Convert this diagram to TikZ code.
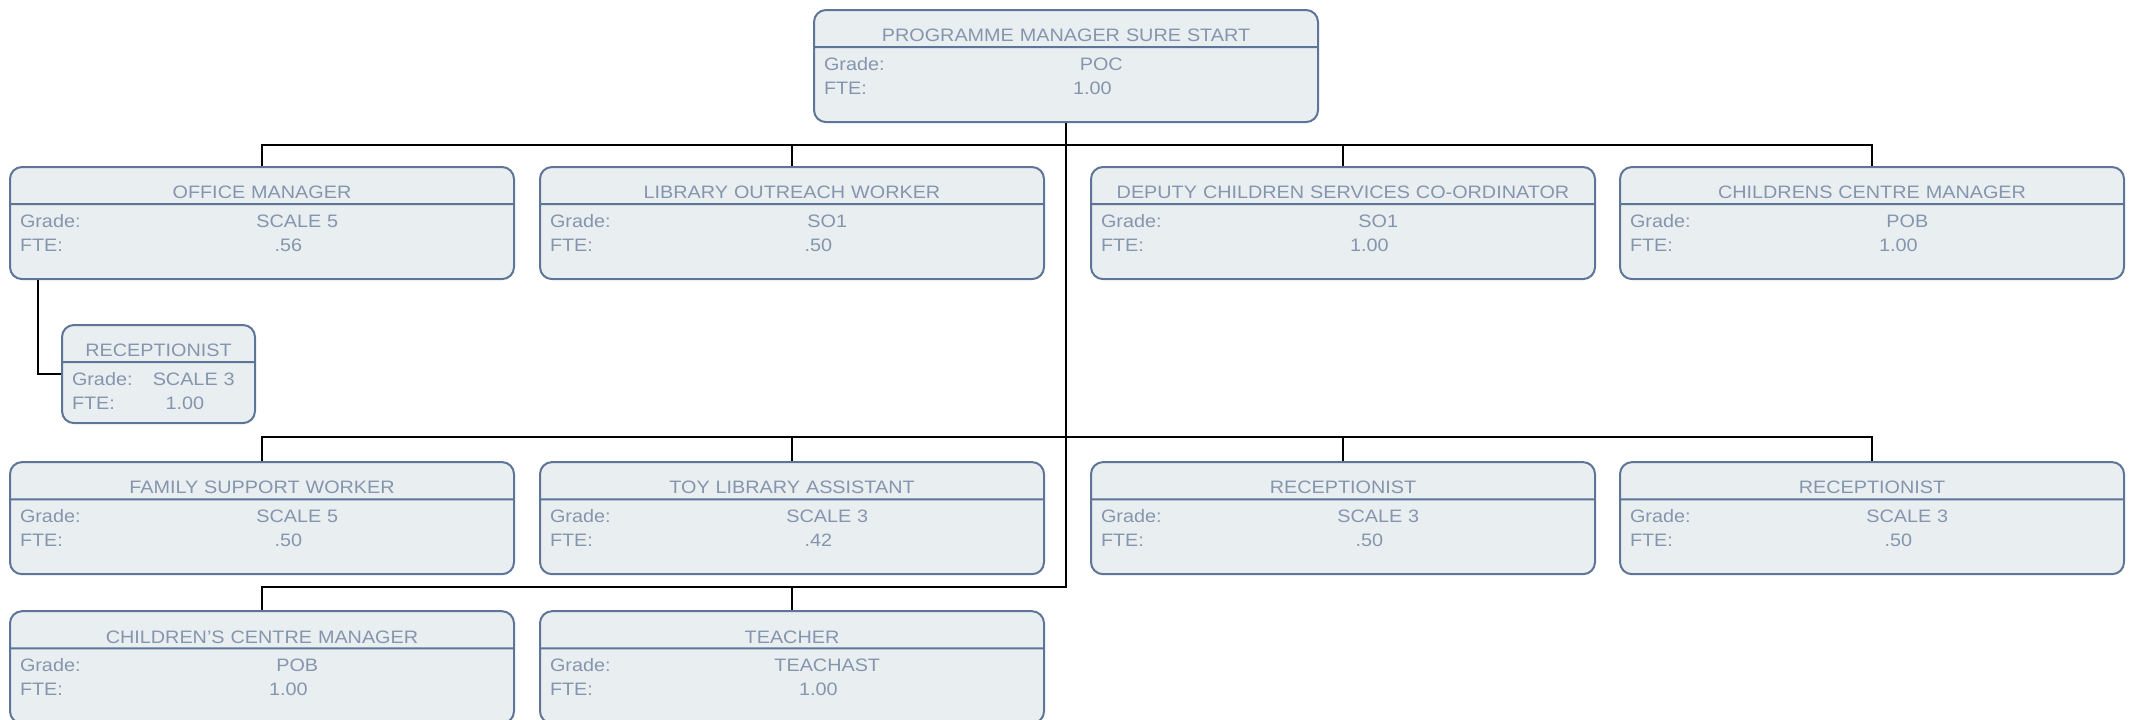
\documentclass[tikz,border=0pt]{standalone}
\usepackage{fontspec}
\setmainfont{Liberation Sans}[FakeStretch=1.1]
\usetikzlibrary{positioning,shapes.multipart}

\definecolor{postfill}{HTML}{E9EEF1}
\definecolor{postedge}{HTML}{5E7598}
\definecolor{posttext}{HTML}{8595AD}

\newcommand{\post}[4][13.2pt]{\rule[-2.2pt]{0pt}{17.6pt}#2\nodepart{two}%
  \noindent\hbox to\linewidth{\rule{0pt}{11pt}Grade:\hfill#3\hfill\kern-5pt}\\
  \hbox to\linewidth{FTE:\hfill#4\hfill\kern-5pt\rule[-#1]{0pt}{#1}}}

\begin{document}
\begin{tikzpicture}[
    x=0.5pt, y=-0.5pt,
    post/.style={rectangle split, rectangle split parts=2, draw=postedge, line width=1pt, fill=postfill, rounded corners=6pt, text=posttext, font=\fontsize{9}{12.25}\selectfont, text width=242pt, inner xsep=5pt, inner ysep=0pt, align=center},
    link/.style={draw, line width=1pt}
]
\useasboundingbox (0,0) rectangle (2134,719);
\node[post, anchor=north] (prog) at (1066,9) {\post{PROGRAMME MANAGER SURE START}{POC}{1.00}};
% first row
\node[post, anchor=north west] (office) at (9,166) {\post{OFFICE MANAGER}{SCALE 5}{.56}};
\node[post, right=12pt of office] (outreach) {\post{LIBRARY OUTREACH WORKER}{SO1}{.50}};
\node[post, right=22.5pt of outreach] (deputy) {\post{DEPUTY CHILDREN SERVICES CO-ORDINATOR}{SO1}{1.00}};
\node[post, right=11.5pt of deputy] (centre) {\post{CHILDRENS CENTRE MANAGER}{POB}{1.00}};
\node[post, anchor=north west, text width=86.5pt] (recept) at (61,324) {\post[6.2pt]{RECEPTIONIST}{SCALE 3}{1.00}};
% second row
\node[post, below=90.5pt of office] (family) {\post{FAMILY SUPPORT WORKER}{SCALE 5}{.50}};
\node[post, right=12pt of family] (toylib) {\post{TOY LIBRARY ASSISTANT}{SCALE 3}{.42}};
\node[post, right=22.5pt of toylib] (recepta) {\post{RECEPTIONIST}{SCALE 3}{.50}};
\node[post, right=11.5pt of recepta] (receptb) {\post{RECEPTIONIST}{SCALE 3}{.50}};
% third row
\node[post, below=17.5pt of family] (ccentre) {\post{CHILDREN'S CENTRE MANAGER}{POB}{1.00}};
\node[post, right=12pt of ccentre] (teacher) {\post{TEACHER}{TEACHAST}{1.00}};
% lines
\foreach \n in {office,outreach,deputy,centre}
  \draw[link] (prog.south) -- ++(0,22) -| (\n.north);
\foreach \n in {family,toylib,recepta,receptb}
  \draw[link] (prog.south) |- ([yshift=12pt]\n.north) -- (\n.north);
\foreach \n in {ccentre,teacher}
  \draw[link] (prog.south) |- ([yshift=11.5pt]\n.north) -- (\n.north);
\draw[link] ([xshift=14.5pt]office.south west) |- (recept.west);
\end{tikzpicture}
\end{document}
